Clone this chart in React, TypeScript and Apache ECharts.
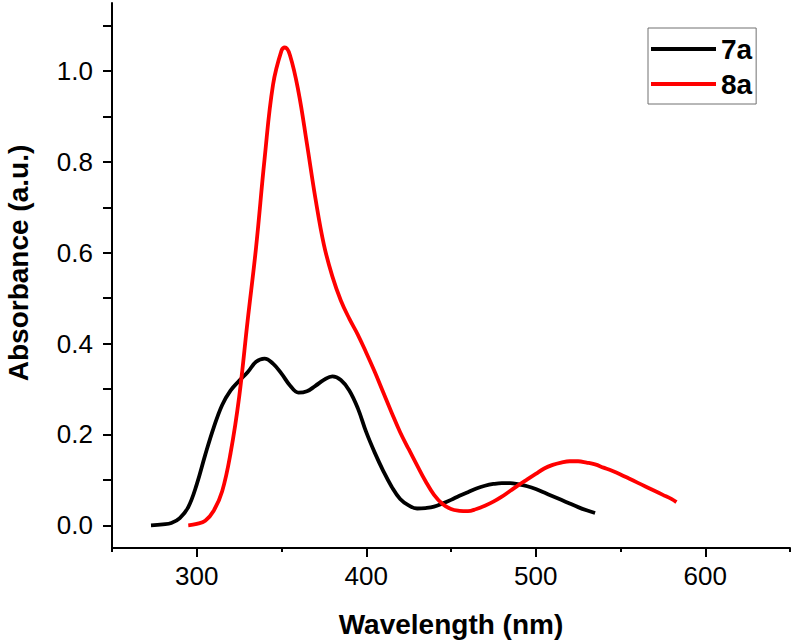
import { useEffect, useRef } from "react";
import * as echarts from "echarts";

// UV-Vis absorption spectra of compounds 7a and 8a
const wavelength7a = [
  273, 280, 285, 290, 295, 300, 305, 310, 315, 320, 325, 330, 335, 340, 345, 350,
  355, 360, 365, 370, 375, 380, 385, 390, 395, 400, 405, 410, 415, 420, 425, 430,
  435, 440, 445, 450, 455, 460, 465, 470, 475, 480, 485, 490, 495, 500, 505, 510,
  515, 520, 525, 530, 535,
];
const absorbance7a = [
  0.0, 0.002, 0.005, 0.016, 0.04, 0.09, 0.155, 0.215, 0.265, 0.297, 0.318, 0.337,
  0.36, 0.367, 0.356, 0.334, 0.308, 0.292, 0.295, 0.307, 0.32, 0.328, 0.32, 0.297,
  0.258, 0.205, 0.16, 0.12, 0.085, 0.058, 0.044, 0.037, 0.038, 0.041, 0.048, 0.056,
  0.065, 0.073, 0.081, 0.087, 0.091, 0.093, 0.093, 0.09, 0.086, 0.08, 0.072, 0.064,
  0.056, 0.048, 0.04, 0.033, 0.027,
];

const wavelength8a = [
  295, 300, 305, 310, 315, 320, 325, 330, 335, 340, 345, 350, 352, 355, 360, 365,
  370, 375, 380, 385, 390, 395, 400, 405, 410, 415, 420, 425, 430, 435, 440, 445,
  450, 455, 460, 465, 470, 475, 480, 485, 490, 495, 500, 505, 510, 515, 520, 525,
  530, 535, 540, 545, 550, 555, 560, 565, 570, 575, 580, 583,
];
const absorbance8a = [
  0.0, 0.003, 0.01, 0.032, 0.075, 0.16, 0.282, 0.45, 0.612, 0.806, 0.97, 1.045,
  1.052, 1.035, 0.955, 0.84, 0.72, 0.618, 0.548, 0.495, 0.455, 0.42, 0.38, 0.338,
  0.293, 0.248, 0.205, 0.168, 0.132, 0.097, 0.067, 0.047, 0.036, 0.032, 0.031,
  0.036, 0.043, 0.052, 0.063, 0.076, 0.089, 0.101, 0.113, 0.125, 0.133, 0.138,
  0.141, 0.141, 0.138, 0.134, 0.127, 0.12, 0.112, 0.103, 0.094, 0.085, 0.076,
  0.067, 0.058, 0.051,
];

const xLabelValues = [300, 400, 500, 600];
const xMinorValues = [250, 350, 450, 550, 650];
const yLabelValues = [0, 0.2, 0.4, 0.6, 0.8, 1.0];
const yTickValues = [0, 0.1, 0.2, 0.3, 0.4, 0.5, 0.6, 0.7, 0.8, 0.9, 1.0, 1.1];

const FONT = "Liberation Sans, Arial, sans-serif";

export default function App() {
  const ref = useRef<HTMLDivElement>(null);

  useEffect(() => {
    if (!ref.current) return;
    const chart = echarts.init(ref.current, null, { renderer: "svg" });

    const pairs = (xs: number[], ys: number[]) => xs.map((x, i) => [x, ys[i]]);

    chart.setOption({
      animation: false,
      backgroundColor: "#ffffff",
      textStyle: { fontFamily: FONT },
      grid: { left: 112, right: 2, top: 3, bottom: 96, containLabel: false },
      legend: {
        orient: "vertical",
        left: 648,
        top: 28,
        padding: [7, 4, 6, 3],
        itemGap: 7,
        itemWidth: 65,
        itemHeight: 4,
        itemTextGap: 6,
        icon: "rect",
        borderColor: "#707070",
        borderWidth: 1,
        backgroundColor: "#ffffff",
        textStyle: {
          fontFamily: FONT,
          fontSize: 28,
          fontWeight: "bold",
          color: "#000",
          lineHeight: 28,
        },
        data: ["7a", "8a"],
      },
      xAxis: [
        {
          type: "value",
          min: 250,
          max: 650,
          position: "bottom",
          name: "Wavelength (nm)",
          nameLocation: "middle",
          nameGap: 62,
          nameTextStyle: {
            fontFamily: FONT,
            fontSize: 28,
            fontWeight: "bold",
            color: "#000",
          },
          axisLine: { show: true, onZero: false, lineStyle: { color: "#000", width: 2 } },
          axisTick: {
            show: true,
            inside: false,
            length: 9,
            customValues: xLabelValues,
            lineStyle: { color: "#000", width: 2 },
          },
          axisLabel: {
            show: true,
            customValues: xLabelValues,
            margin: 15,
            fontFamily: FONT,
            fontSize: 26,
            color: "#000",
          },
          splitLine: { show: false },
        },
        {
          type: "value",
          min: 250,
          max: 650,
          position: "bottom",
          axisLine: { show: false, onZero: false },
          axisTick: {
            show: true,
            inside: false,
            length: 4,
            customValues: xMinorValues,
            lineStyle: { color: "#000", width: 2 },
          },
          axisLabel: { show: false },
          splitLine: { show: false },
        },
      ],
      yAxis: {
        type: "value",
        min: -0.05,
        max: 1.15,
        axisLine: { show: true, onZero: false, lineStyle: { color: "#000", width: 2 } },
        axisTick: {
          show: true,
          inside: false,
          length: 9,
          customValues: yTickValues,
          lineStyle: { color: "#000", width: 2 },
        },
        axisLabel: {
          show: true,
          customValues: yLabelValues,
          margin: 19,
          fontFamily: FONT,
          fontSize: 26,
          color: "#000",
          formatter: (v: number) => v.toFixed(1),
        },
        splitLine: { show: false },
      },
      graphic: [
        {
          type: "text",
          x: 18,
          y: 263,
          rotation: Math.PI / 2,
          style: {
            text: "Absorbance (a.u.)",
            fontFamily: FONT,
            fontSize: 28,
            fontWeight: "bold",
            fill: "#000",
            align: "center",
            verticalAlign: "middle",
          },
        },
      ],
      series: [
        {
          name: "7a",
          type: "line",
          xAxisIndex: 0,
          data: pairs(wavelength7a, absorbance7a),
          smooth: 0.4,
          symbol: "none",
          lineStyle: { color: "#000000", width: 3.8 },
          itemStyle: { color: "#000000" },
        },
        {
          name: "8a",
          type: "line",
          xAxisIndex: 0,
          data: pairs(wavelength8a, absorbance8a),
          smooth: 0.4,
          symbol: "none",
          lineStyle: { color: "#ff0000", width: 3.8 },
          itemStyle: { color: "#ff0000" },
        },
      ],
    });

    return () => chart.dispose();
  }, []);

  return (
    <div
      ref={ref}
      style={{ position: "absolute", left: 0, top: 0, width: 792, height: 644 }}
    />
  );
}
